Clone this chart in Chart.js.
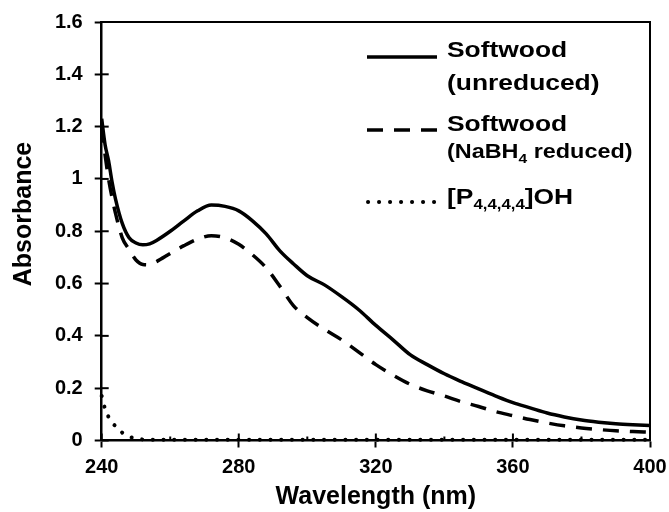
<!DOCTYPE html>
<html>
<head>
<meta charset="utf-8">
<script src="https://cdn.jsdelivr.net/npm/chart.js@4.4.0/dist/chart.umd.min.js"></script>
<style>
  html, body { margin: 0; padding: 0; background: #fff; }
  #wrap { width: 669px; height: 512px; position: relative; }
</style>
</head>
<body>
<div id="wrap"><canvas id="chart"></canvas></div>
<script>
const wavelength = [240, 241, 242, 243, 244, 246, 248, 250, 252, 254, 256,
  260, 264, 268, 272, 276, 280, 284, 288, 292, 296, 300,
  305, 310, 315, 320, 325, 330, 335, 340, 345, 350, 355, 360, 365, 370, 375, 380, 385, 390, 395, 400];

const unreduced = [1.23, 1.13, 1.07, 0.99, 0.925, 0.83, 0.775, 0.755, 0.748, 0.752, 0.765,
  0.80, 0.84, 0.878, 0.90, 0.895, 0.878, 0.84, 0.79, 0.725, 0.675, 0.63,
  0.595, 0.55, 0.50, 0.44, 0.385, 0.328, 0.29, 0.255, 0.225, 0.197, 0.17, 0.145, 0.125, 0.105, 0.09, 0.078, 0.07, 0.064, 0.06, 0.057];

const reduced = [1.20, 1.09, 1.00, 0.93, 0.87, 0.775, 0.73, 0.69, 0.673, 0.672, 0.684,
  0.715, 0.745, 0.77, 0.783, 0.775, 0.75, 0.71, 0.66, 0.59, 0.515, 0.47,
  0.425, 0.385, 0.338, 0.29, 0.25, 0.215, 0.19, 0.17, 0.148, 0.13, 0.11, 0.095, 0.08, 0.067, 0.056, 0.048, 0.042, 0.037, 0.034, 0.032];

const phosphonium = [0.17, 0.12, 0.09, 0.07, 0.055, 0.03, 0.015, 0.008, 0.004, 0.003, 0.003,
  0.003, 0.003, 0.003, 0.003, 0.003, 0.003, 0.003, 0.003, 0.003, 0.003, 0.003,
  0.003, 0.003, 0.003, 0.003, 0.003, 0.003, 0.003, 0.003, 0.003, 0.003, 0.003, 0.003, 0.003, 0.003, 0.003, 0.003, 0.003, 0.003, 0.003, 0.003];

const xTickLabels = ["240", "280", "320", "360", "400"];
const yTickLabels = ["0", "0.2", "0.4", "0.6", "0.8", "1", "1.2", "1.4", "1.6"];

const FONT = "'Liberation Sans', Arial, sans-serif";

const toPoints = (ys) => wavelength.map((x, i) => ({ x: x, y: ys[i] }));

// text with subscript pieces [text, size, dy], stretched a bit wider like the original
const drawRich = (ctx, parts, x, y, sx = 1.2) => {
  ctx.save();
  ctx.translate(x, y);
  ctx.scale(sx, 1);
  let cx = 0;
  parts.forEach(([t, size, dy]) => {
    ctx.font = `bold ${size}px ${FONT}`;
    ctx.fillText(t, cx, dy);
    cx += ctx.measureText(t).width;
  });
  ctx.restore();
};

const extras = {
  id: "extras",
  afterDraw(chart) {
    const ctx = chart.ctx;
    const a = chart.chartArea;
    const xs = chart.scales.x;
    const ys = chart.scales.y;
    ctx.save();
    ctx.strokeStyle = "#000";
    ctx.fillStyle = "#000";

    // frame top + right
    ctx.lineWidth = 2;
    ctx.beginPath();
    ctx.moveTo(a.left, a.top);
    ctx.lineTo(a.right, a.top);
    ctx.lineTo(a.right, a.bottom);
    ctx.stroke();

    // inner ticks
    ys.ticks.forEach((t) => {
      const py = ys.getPixelForValue(t.value);
      ctx.beginPath();
      ctx.moveTo(a.left, py);
      ctx.lineTo(a.left + 7, py);
      ctx.stroke();
    });
    for (let v = 240; v <= 400; v += 20) {
      const px = xs.getPixelForValue(v);
      const len = v % 40 === 0 ? 7 : 4;
      ctx.beginPath();
      ctx.moveTo(px, a.bottom);
      ctx.lineTo(px, a.bottom - len);
      ctx.stroke();
    }

    // y axis title
    ctx.save();
    ctx.translate(24, 214);
    ctx.rotate(-Math.PI / 2);
    ctx.font = `bold 25px ${FONT}`;
    ctx.textAlign = "center";
    ctx.textBaseline = "middle";
    ctx.fillText("Absorbance", 0, 0);
    ctx.restore();

    // legend
    ctx.lineWidth = 3.5;
    ctx.lineCap = "butt";
    ctx.beginPath();
    ctx.moveTo(367, 57);
    ctx.lineTo(437, 57);
    ctx.stroke();

    ctx.setLineDash([16, 11]);
    ctx.beginPath();
    ctx.moveTo(367, 130);
    ctx.lineTo(437, 130);
    ctx.stroke();

    ctx.lineWidth = 4;
    ctx.lineCap = "round";
    ctx.setLineDash([0.1, 10.9]);
    ctx.beginPath();
    ctx.moveTo(368, 202);
    ctx.lineTo(436, 202);
    ctx.stroke();
    ctx.setLineDash([]);

    ctx.textAlign = "left";
    ctx.textBaseline = "middle";
    drawRich(ctx, [["Softwood", 22, 0]], 447, 51);
    drawRich(ctx, [["(unreduced)", 22, 0]], 447, 84);
    drawRich(ctx, [["Softwood", 22, 0]], 447, 125);
    drawRich(ctx, [["(NaBH", 19.5, 0], ["4", 13, 6], [" reduced)", 19.5, 0]], 447, 153);
    drawRich(ctx, [["[P", 22, 0], ["4,4,4,4", 14, 7], ["]OH", 22, 0]], 447, 198);

    ctx.restore();
  },
};

new Chart(document.getElementById("chart"), {
  type: "line",
  data: {
    datasets: [
      {
        label: "Softwood (unreduced)",
        data: toPoints(unreduced),
        borderColor: "#000",
        borderWidth: 3.5,
        pointRadius: 0,
        cubicInterpolationMode: "monotone",
      },
      {
        label: "Softwood (NaBH4 reduced)",
        data: toPoints(reduced),
        borderColor: "#000",
        borderWidth: 3.5,
        borderDash: [16, 11],
        pointRadius: 0,
        cubicInterpolationMode: "monotone",
      },
      {
        label: "[P4,4,4,4]OH",
        data: toPoints(phosphonium),
        borderColor: "#000",
        borderWidth: 4,
        borderDash: [0.1, 10.6],
        borderCapStyle: "round",
        pointRadius: 0,
        cubicInterpolationMode: "monotone",
        clip: 6,
      },
    ],
  },
  options: {
    responsive: true,
    maintainAspectRatio: false,
    animation: false,
    events: [],
    layout: { padding: { top: 22, right: 19, left: 0, bottom: 0 } },
    plugins: {
      legend: { display: false },
      tooltip: { enabled: false },
    },
    scales: {
      x: {
        type: "linear",
        min: 240,
        max: 400,
        afterFit: (s) => {
          s.height = 71.5;
          s.paddingLeft = 0;
          s.paddingRight = 0;
        },
        ticks: {
          stepSize: 40,
          padding: 8,
          color: "#000",
          font: { family: FONT, size: 20, weight: "bold" },
          callback: (v, i) => xTickLabels[i],
        },
        grid: {
          drawOnChartArea: false,
          drawTicks: true,
          tickLength: 7,
          tickWidth: 2,
          tickColor: "#000",
        },
        border: { display: true, color: "#000", width: 2.5 },
        title: {
          display: true,
          text: "Wavelength (nm)",
          color: "#000",
          font: { family: FONT, size: 25, weight: "bold" },
          padding: { top: 0, bottom: 0 },
        },
      },
      y: {
        min: 0,
        max: 1.6,
        afterFit: (s) => {
          s.width = 101.7;
          s.paddingTop = 0;
          s.paddingBottom = 0;
        },
        ticks: {
          stepSize: 0.2,
          padding: 12,
          color: "#000",
          font: { family: FONT, size: 20, weight: "bold" },
          callback: (v, i) => yTickLabels[i],
        },
        grid: {
          drawOnChartArea: false,
          drawTicks: true,
          tickLength: 7,
          tickWidth: 2,
          tickColor: "#000",
        },
        border: { display: true, color: "#000", width: 2.5 },
      },
    },
  },
  plugins: [extras],
});
</script>
</body>
</html>
